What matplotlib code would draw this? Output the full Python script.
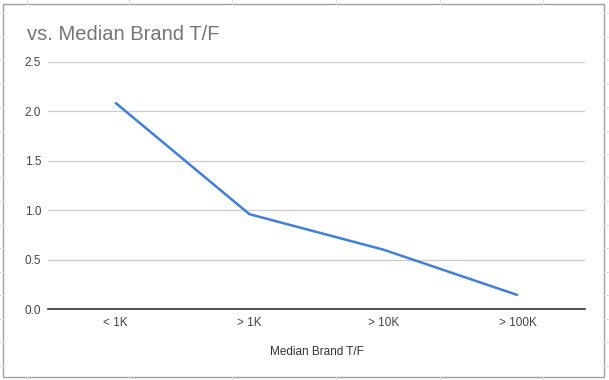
import matplotlib
matplotlib.use("Agg")
import matplotlib.pyplot as plt
from matplotlib.lines import Line2D
from matplotlib.patches import Rectangle

categories = ["< 1K", "> 1K", "> 10K", "> 100K"]
values = [2.09, 0.96, 0.60, 0.14]
yticks = [0.0, 0.5, 1.0, 1.5, 2.0, 2.5]
title = "vs. Median Brand T/F"
xlabel = "Median Brand T/F"

plt.rcParams["font.family"] = ["Liberation Sans", "DejaVu Sans"]

W, H = 609, 380
fig = plt.figure(figsize=(W / 100, H / 100), dpi=100)
fig.patch.set_facecolor("white")

def fx(px):
    return px / W

def fy(py):
    return 1 - py / H

# faint spreadsheet grid outside chart
grid_c = "#e2e2e2"
for gx in [27, 129, 232, 336, 440, 543]:
    fig.add_artist(Line2D([fx(gx), fx(gx)], [fy(0), fy(4)], color=grid_c, lw=0.8))
    fig.add_artist(Line2D([fx(gx), fx(gx)], [fy(377), fy(380)], color=grid_c, lw=0.8))
gy = 13
while gy < H:
    fig.add_artist(Line2D([fx(0), fx(3)], [fy(gy), fy(gy)], color=grid_c, lw=0.8))
    fig.add_artist(Line2D([fx(604), fx(609)], [fy(gy), fy(gy)], color=grid_c, lw=0.8))
    gy += 23.5

# chart border
fig.add_artist(Rectangle((fx(3), fy(377)), fx(604) - fx(3), fy(4) - fy(377),
                         fill=False, edgecolor="#a0a0a0", lw=1.0))

ax = fig.add_axes([fx(48), fy(309), fx(585) - fx(48), fy(62) - fy(309)])
x = list(range(len(categories)))
ax.plot(x, values, color="#3f80dc", lw=1.8, solid_capstyle="butt")
ax.set_xlim(-0.5, len(categories) - 0.5)
ax.set_ylim(0, 2.5)
ax.set_yticks(yticks)
ax.set_yticklabels([f"{t:.1f}" for t in yticks])
ax.set_xticks(x)
ax.set_xticklabels(categories)
ax.grid(axis="y", color="#cccccc", lw=0.9)
ax.set_axisbelow(True)
for s in ["top", "right", "left"]:
    ax.spines[s].set_visible(False)
ax.spines["bottom"].set_color("#333333")
ax.spines["bottom"].set_linewidth(1.2)
ax.spines["bottom"].set_zorder(3)
ax.tick_params(axis="both", length=0, labelsize=8.5, labelcolor="#444444")
ax.tick_params(axis="y", pad=5)
ax.tick_params(axis="x", pad=6)
ax.set_xlabel(xlabel, fontsize=8.5, color="#333333", labelpad=12)

fig.text(fx(27), fy(34), title, fontsize=14.5, color="#757575", ha="left", va="center")

fig.savefig("out.png", dpi=100)
